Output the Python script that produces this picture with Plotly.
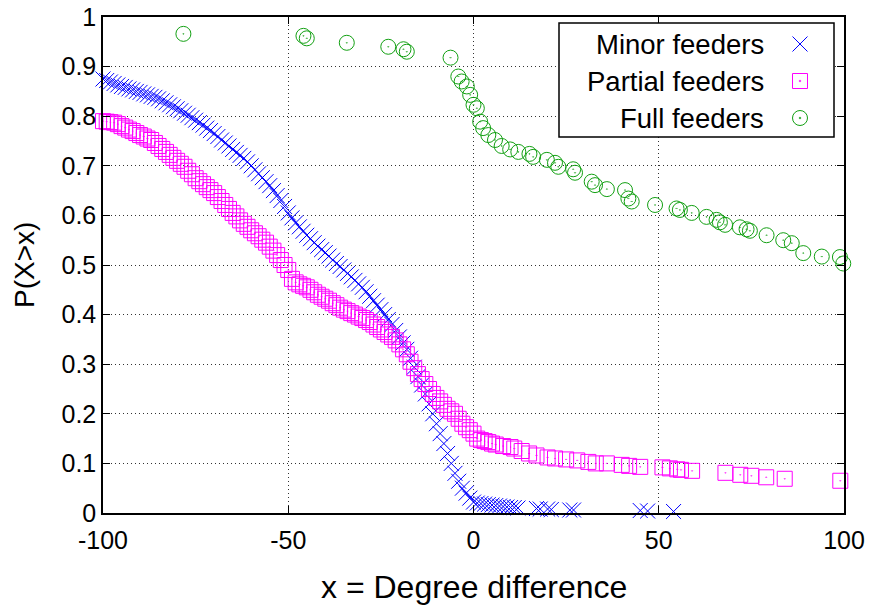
import plotly.graph_objects as go

# ---------------- data ----------------
MINOR_X = list(range(-100, 1)) + [1, 2, 3, 4, 5, 6, 7, 8, 9, 10, 11, 12, 17, 18, 20, 21, 26, 27, 45, 47, 54]
MINOR_Y = [
    0.875, 0.872, 0.869, 0.866, 0.863, 0.860, 0.858, 0.855, 0.853, 0.850,
    0.848, 0.845, 0.843, 0.840, 0.838, 0.835, 0.831, 0.827, 0.823, 0.819,
    0.815, 0.811, 0.806, 0.802, 0.797, 0.792, 0.787, 0.782, 0.776, 0.771,
    0.765, 0.759, 0.752, 0.746, 0.740, 0.733, 0.727, 0.721, 0.715, 0.708,
    0.700, 0.692, 0.684, 0.676, 0.668, 0.660, 0.650, 0.640, 0.630, 0.618,
    0.605, 0.595, 0.585, 0.577, 0.568, 0.560, 0.553, 0.545, 0.538, 0.531,
    0.525, 0.518, 0.510, 0.503, 0.497, 0.490, 0.483, 0.476, 0.469, 0.462,
    0.455, 0.446, 0.437, 0.428, 0.419, 0.410, 0.400, 0.390, 0.380, 0.368,
    0.355, 0.343, 0.330, 0.312, 0.294, 0.275, 0.258, 0.240, 0.220, 0.200,
    0.180, 0.160, 0.140, 0.120, 0.100, 0.080, 0.064, 0.050, 0.040, 0.030,
    0.022,
    0.020, 0.019, 0.018, 0.017, 0.016, 0.015, 0.014, 0.013, 0.012, 0.011, 0.011, 0.010,
    0.009, 0.008, 0.008, 0.007, 0.006, 0.006, 0.005, 0.004, 0.003,
]

PARTIAL_X = list(range(-100, 1)) + [1, 2, 3, 4, 5, 6, 8, 10, 11, 13, 15, 17, 20, 22, 25, 28, 31, 33,
                                    36, 40, 42, 45, 51, 53, 55, 56, 59, 68, 72, 75, 79, 84, 99]
PARTIAL_Y = [
    0.790, 0.789, 0.788, 0.787, 0.784, 0.780, 0.777, 0.773, 0.770, 0.766,
    0.762, 0.759, 0.755, 0.752, 0.746, 0.740, 0.734, 0.728, 0.722, 0.716,
    0.710, 0.704, 0.698, 0.690, 0.683, 0.675, 0.669, 0.663, 0.657, 0.651,
    0.645, 0.637, 0.629, 0.621, 0.613, 0.605, 0.598, 0.590, 0.583, 0.577,
    0.570, 0.564, 0.558, 0.551, 0.545, 0.537, 0.529, 0.520, 0.510, 0.500,
    0.490, 0.472, 0.465, 0.461, 0.458, 0.455, 0.450, 0.445, 0.440, 0.436,
    0.432, 0.428, 0.423, 0.419, 0.414, 0.410, 0.407, 0.403, 0.400, 0.396,
    0.393, 0.389, 0.385, 0.380, 0.375, 0.370, 0.365, 0.360, 0.355, 0.348,
    0.340, 0.330, 0.320, 0.305, 0.292, 0.280, 0.270, 0.260, 0.250, 0.240,
    0.232, 0.225, 0.218, 0.210, 0.205, 0.200, 0.190, 0.180, 0.173, 0.167,
    0.160,
    0.150, 0.147, 0.145, 0.143, 0.140, 0.138, 0.135, 0.133, 0.130, 0.125, 0.120, 0.116,
    0.112, 0.110, 0.108, 0.106, 0.103, 0.100, 0.100, 0.097, 0.095, 0.093, 0.092, 0.090,
    0.088, 0.087, 0.085, 0.081, 0.077, 0.075, 0.072, 0.069, 0.065,
]

FULL_X = [-78.3, -45.9, -45.0, -34.2, -23.0, -18.9, -18.0, -6.2, -4.1, -3.2, -1.8, -0.9,
          0.0, 0.9, 1.8, 2.6, 4.0, 5.8, 7.6, 9.9, 12.1, 15.1, 16.1, 19.8, 22.0, 22.9,
          26.9, 27.4, 31.9, 32.8, 36.0, 40.9, 41.8, 42.7, 49.0, 54.8, 55.7, 58.9, 62.9,
          65.6, 66.5, 67.9, 71.9, 73.7, 74.6, 79.1, 83.6, 85.9, 89.0, 94.0, 98.9, 99.8]
FULL_Y = [0.966, 0.962, 0.957, 0.948, 0.940, 0.935, 0.930, 0.918, 0.880, 0.870, 0.860, 0.843,
          0.823, 0.816, 0.789, 0.776, 0.762, 0.752, 0.740, 0.733, 0.728, 0.724, 0.718, 0.712,
          0.706, 0.698, 0.693, 0.686, 0.668, 0.661, 0.653, 0.651, 0.634, 0.628, 0.621, 0.614,
          0.611, 0.605, 0.597, 0.591, 0.586, 0.581, 0.576, 0.572, 0.569, 0.560, 0.550, 0.544,
          0.524, 0.517, 0.516, 0.503]

SERIES_NAMES = ["Minor feeders", "Partial feeders", "Full feeders"]
X_TICKS = [-100, -50, 0, 50, 100]
X_TICK_LABELS = ["-100", "-50", "0", "50", "100"]
Y_TICKS = [0, 0.1, 0.2, 0.3, 0.4, 0.5, 0.6, 0.7, 0.8, 0.9, 1]
Y_TICK_LABELS = ["0", "0.1", "0.2", "0.3", "0.4", "0.5", "0.6", "0.7", "0.8", "0.9", "1"]
X_TITLE = "x = Degree difference"
Y_TITLE = "P(X>x)"

BLUE = "#0000ff"
MAGENTA = "#ff00ff"
GREEN = "#12a012"
FONT = "Liberation Sans, Arial, sans-serif"

fig = go.Figure()
fig.add_trace(go.Scatter(x=MINOR_X, y=MINOR_Y, mode="markers", name=SERIES_NAMES[0],
                         marker=dict(symbol="x-thin-open", size=15, color=BLUE,
                                     line=dict(color=BLUE, width=1)),
                         cliponaxis=False, showlegend=False))
fig.add_trace(go.Scatter(x=PARTIAL_X, y=PARTIAL_Y, mode="markers", name=SERIES_NAMES[1],
                         marker=dict(symbol="square-open-dot", size=15, color=MAGENTA,
                                     line=dict(color=MAGENTA, width=1)),
                         cliponaxis=False, showlegend=False))
fig.add_trace(go.Scatter(x=FULL_X, y=FULL_Y, mode="markers", name=SERIES_NAMES[2],
                         marker=dict(symbol="circle-open-dot", size=15, color=GREEN,
                                     line=dict(color=GREEN, width=1)),
                         cliponaxis=False, showlegend=False))

# ---------------- plot area geometry (px) ----------------
L, R, T, B = 103, 844, 17, 513
W, H = float(R - L), float(B - T)
def px(xp):
    return (xp - L) / W
def py(yp):
    return (B - yp) / H

# ---------------- gnuplot-style key: text right-aligned, symbol on the right ----------------
shapes = [dict(type="rect", xref="paper", yref="paper", x0=px(559), x1=px(834), y0=py(137), y1=py(23),
               line=dict(color="black", width=1.5), fillcolor="white", layer="above")]
annotations = []
rows = [44, 81, 118]
sx = 800
hs = 7.5
for name, ry in zip(SERIES_NAMES, rows):
    annotations.append(dict(xref="paper", yref="paper", x=px(766), y=py(ry), xanchor="right", yanchor="middle",
                            text=name, showarrow=False, font=dict(family=FONT, size=27.5, color="black")))
shapes.append(dict(type="line", xref="paper", yref="paper", x0=px(sx - hs), x1=px(sx + hs),
                   y0=py(rows[0] + hs), y1=py(rows[0] - hs), line=dict(color=BLUE, width=1), layer="above"))
shapes.append(dict(type="line", xref="paper", yref="paper", x0=px(sx - hs), x1=px(sx + hs),
                   y0=py(rows[0] - hs), y1=py(rows[0] + hs), line=dict(color=BLUE, width=1), layer="above"))
shapes.append(dict(type="rect", xref="paper", yref="paper", x0=px(sx - hs), x1=px(sx + hs),
                   y0=py(rows[1] + hs), y1=py(rows[1] - hs), line=dict(color=MAGENTA, width=1), layer="above"))
shapes.append(dict(type="rect", xref="paper", yref="paper", x0=px(sx - 0.7), x1=px(sx + 0.7),
                   y0=py(rows[1] + 0.7), y1=py(rows[1] - 0.7), line=dict(color=MAGENTA, width=0.5),
                   fillcolor=MAGENTA, layer="above"))
shapes.append(dict(type="circle", xref="paper", yref="paper", x0=px(sx - hs), x1=px(sx + hs),
                   y0=py(rows[2] + hs), y1=py(rows[2] - hs), line=dict(color=GREEN, width=1), layer="above"))
shapes.append(dict(type="rect", xref="paper", yref="paper", x0=px(sx - 0.7), x1=px(sx + 0.7),
                   y0=py(rows[2] + 0.7), y1=py(rows[2] - 0.7), line=dict(color=GREEN, width=0.5),
                   fillcolor=GREEN, layer="above"))

# axis titles
annotations.append(dict(xref="paper", yref="paper", x=0.5, y=py(587), xanchor="center", yanchor="middle",
                        text=X_TITLE, showarrow=False, font=dict(family=FONT, size=32, color="black")))
annotations.append(dict(xref="paper", yref="paper", x=px(24), y=0.5, xanchor="center", yanchor="middle",
                        text=Y_TITLE, textangle=-90, showarrow=False,
                        font=dict(family=FONT, size=28, color="black")))

axis_common = dict(showline=True, linecolor="black", linewidth=1.5, mirror="ticks",
                   ticks="inside", ticklen=7, tickwidth=1, tickcolor="black",
                   showgrid=True, gridcolor="#333333", gridwidth=1, griddash="1px,3px",
                   zeroline=False, tickfont=dict(family=FONT, size=25, color="black"))

fig.update_layout(
    width=876, height=607,
    margin=dict(l=L, r=876 - R, t=T, b=607 - B, autoexpand=False),
    paper_bgcolor="white", plot_bgcolor="white",
    showlegend=False,
    shapes=shapes, annotations=annotations,
    xaxis=dict(range=[-100, 100], tickvals=X_TICKS, ticktext=X_TICK_LABELS, automargin=False,
               ticklabelstandoff=4, **axis_common),
    yaxis=dict(range=[0, 1], tickvals=Y_TICKS, ticktext=Y_TICK_LABELS, automargin=False,
               **axis_common),
)

fig.write_html("out.html")
